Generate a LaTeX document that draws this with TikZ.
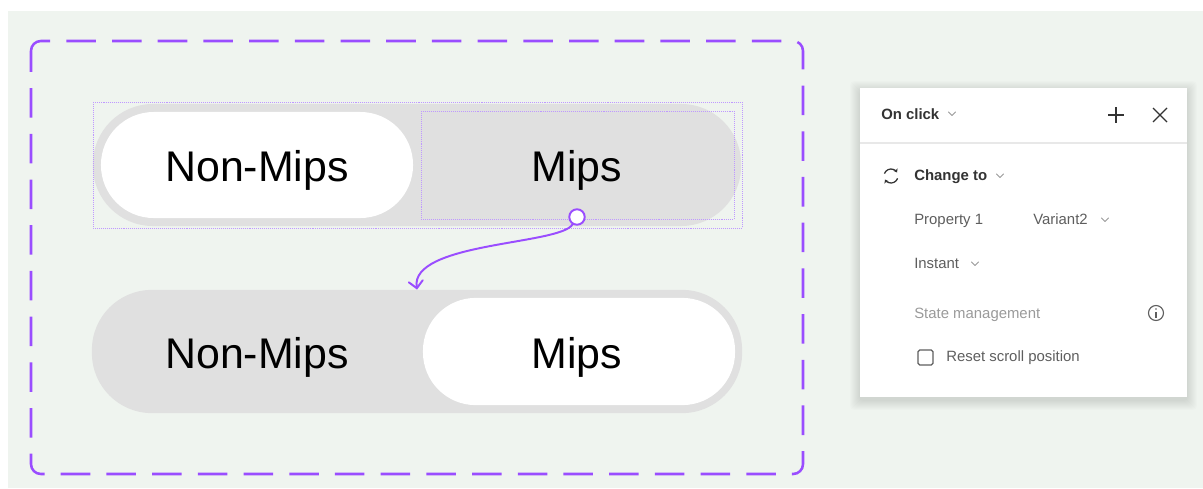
\documentclass[tikz,border=0pt]{standalone}
\usepackage{fontspec}
\setmainfont{Liberation Sans}
\usetikzlibrary{arrows.meta}

\definecolor{figpurple}{HTML}{9A4DFF}
\definecolor{selpurple}{HTML}{BF99FF}
\definecolor{canvasbg}{HTML}{EFF4EF}
\definecolor{pillgrey}{HTML}{E0E0E0}
\definecolor{darktext}{HTML}{333333}
\definecolor{midtext}{HTML}{5E5E5E}
\definecolor{faintext}{HTML}{9A9A9A}
\definecolor{rulegrey}{HTML}{E8E8E8}

\tikzset{
    track/.style={fill=pillgrey, rounded corners=1.5cm,
        minimum width=16.2cm, minimum height=3.05cm},
    knob/.style={fill=white, rounded corners=1.32cm,
        minimum width=7.8cm, minimum height=2.65cm},
    biglabel/.style={anchor=base, inner sep=0pt, font=\fontsize{30.5}{36}\selectfont, text=black},
    selbox/.style={selpurple, line width=0.7pt, dash pattern=on 0.7pt off 0.7pt},
    panellabel/.style={anchor=base west, inner sep=0pt, font=\fontsize{10.6}{12}\selectfont},
    chevron/.style={faintext, line width=0.6pt, line cap=round, line join=round}
}

\begin{document}
\begin{tikzpicture}[x=0.025cm, y=-0.025cm]
    \useasboundingbox (0,0) rectangle (1203,488);
    % canvas
    \fill[white] (0,0) rectangle (1203,488);
    \fill[canvasbg] (8,11) rectangle (1203,488);

    % variant frame
    \draw[figpurple, line width=1.8pt, rounded corners=7pt,
        dash pattern=on 21pt off 11.5pt, dash phase=6pt] (31,41) rectangle (803,474);

    % first variant (Non-Mips selected)
    \node[track] (trackA) at (417,165) {};
    \node[knob] (knobA) at (257,165) {};
    \node[biglabel] (nonmipsA) at (257,181) {Non-Mips};
    \node[biglabel] (mipsA) at (577,181) {Mips};
    \draw[selbox] (93,102) rectangle (742,228);
    \draw[selbox] (421,111) rectangle (734,219);

    % second variant (Mips selected)
    \node[track, minimum width=16.25cm, minimum height=3.08cm] (trackB) at (417,351.5) {};
    \node[knob, minimum height=2.68cm] (knobB) at (579,351.5) {};
    \node[biglabel] (nonmipsB) at (257,368) {Non-Mips};
    \node[biglabel] (mipsB) at (577,368) {Mips};

    % prototype connection
    \node[circle, draw=figpurple, fill=white, line width=1.4pt,
        minimum size=11pt, inner sep=0pt] (handle) at (577,217) {};
    \draw[figpurple, line width=1.4pt, line cap=round,
        -{Straight Barb[length=5pt, width=10pt, line cap=round]}]
        (handle) .. controls (560,245) and (410,242) .. (trackB.north);

    % interaction panel
    \foreach \s in {1,...,10}{
        \fill[black, opacity=0.013, rounded corners=3pt]
            (860-\s,88-\s+3) rectangle (1187+\s,397+\s+3);
    }
    \fill[white] (860,88) rectangle (1187,397);
    \draw[rulegrey, line width=0.8pt] (860,143) -- (1187,143);

    \node[panellabel, text=darktext, font=\fontsize{10.6}{12}\selectfont\bfseries] (trigger) at (881,119) {On click};
    \node[panellabel, text=darktext, font=\fontsize{10.6}{12}\selectfont\bfseries] (action) at (914,180) {Change to};
    \node[panellabel, text=midtext] (prop) at (914,224) {Property 1};
    \node[panellabel, text=midtext] (variant) at (1033,224) {Variant2};
    \node[panellabel, text=midtext] (anim) at (914,268) {Instant};
    \node[panellabel, text=faintext] (state) at (914,318) {State management};
    \node[panellabel, text=midtext] (scroll) at (946,361) {Reset scroll position};

    % dropdown chevrons
    \foreach \cx/\cy in {952/114, 1000/176, 1105/220, 975/264}{
        \draw[chevron] (\cx-3.5,\cy-2) -- (\cx,\cy+1.5) -- (\cx+3.5,\cy-2);
    }

    % header icons
    \draw[darktext, line width=0.9pt] (1108,115) -- (1124,115) (1116,107) -- (1116,123);
    \draw[darktext, line width=0.9pt] (1153,108) -- (1167,122) (1153,122) -- (1167,108);

    % change-to icon
    \draw[darktext, line width=0.9pt, -{Stealth[length=2.5pt, width=3.5pt]}]
        (891,176) ++(200:7) arc (200:330:7);
    \draw[darktext, line width=0.9pt, -{Stealth[length=2.5pt, width=3.5pt]}]
        (891,176) ++(20:7) arc (20:150:7);

    % info icon
    \draw[midtext, line width=0.8pt] (1156,313) circle (7.5);
    \fill[midtext] (1156,309) circle (0.9);
    \draw[midtext, line width=0.9pt] (1156,312) -- (1156,317.5);

    % checkbox
    \draw[midtext, line width=0.9pt, rounded corners=1.2pt] (918,350) rectangle (933,365);
\end{tikzpicture}
\end{document}
